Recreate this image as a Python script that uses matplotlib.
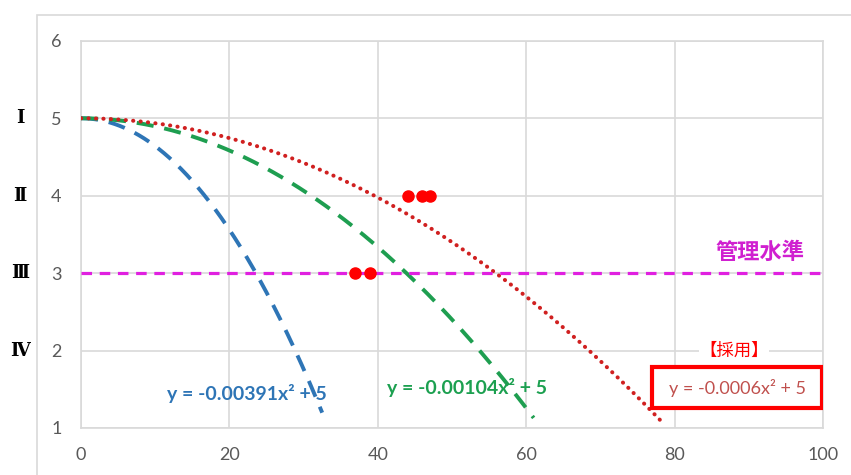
import matplotlib

matplotlib.use("Agg")
import matplotlib.pyplot as plt
import numpy as np
from matplotlib.patches import Rectangle

plt.rcParams["font.family"] = ["Lato", "Noto Sans CJK JP", "DejaVu Sans"]

# 近似曲線 y = -a*x^2 + 5 (a はグラフ上の線から読み取り)
curve_coef = [-0.0036, -0.00104, -0.00064]
curve_xend = [32.5, 61, 78.5]
curve_color = ["#2e75b6", "#1e9e50", "#d02020"]
curve_label = ["y = -0.00391x² + 5", "y = -0.00104x² + 5", "y = -0.0006x² + 5"]

# 実測点
obs_x = [44.1, 45.9, 47.0, 36.9, 39.0]
obs_y = [4, 4, 4, 3, 3]

kanri_level = 3
roman_pos = [5, 4, 3, 2]
roman_text = ["Ⅰ", "Ⅱ", "Ⅲ", "Ⅳ"]

fig = plt.figure(figsize=(8.51, 4.75), dpi=100)
fig.patches.append(Rectangle((0.0435, -0.01), 1.0, 0.978, transform=fig.transFigure,
                             fill=False, ec="#d9d9d9", lw=1.2))
ax = fig.add_axes([0.0952, 0.099, 0.872, 0.815])

grid_c = "#d9d9d9"
ax.set_xlim(0, 100)
ax.set_ylim(1, 6)
ax.set_xticks([0, 20, 40, 60, 80, 100])
ax.set_yticks([1, 2, 3, 4, 5, 6])
ax.grid(True, color=grid_c, lw=1.2, zorder=0)
for s in ax.spines.values():
    s.set_color(grid_c)
    s.set_linewidth(1.2)
ax.tick_params(length=0, labelsize=13, labelcolor="#595959", pad=14)
ax.tick_params(axis="y", pad=14)

# 曲線
dash_pat = [(4.4, 2.8), (4.4, 2.8), (0.05, 1.8)]
lws = [2.8, 2.8, 2.9]
for a, xe, c, d, w in zip(curve_coef, curve_xend, curve_color, dash_pat, lws):
    xs = np.linspace(0, xe, 300)
    ln, = ax.plot(xs, a * xs ** 2 + 5, color=c, lw=w, zorder=3)
    ln.set_dashes(d)
    if d[0] < 1:
        ln.set_dash_capstyle("round")

# 管理水準
ml, = ax.plot([0, 100], [kanri_level, kanri_level], color="#e020e0", lw=2.3, zorder=3)
ml.set_dashes((3.3, 2.4))
ax.text(91.5, kanri_level + 0.12, "管理水準", color="#d020d0", fontsize=16,
        fontweight="bold", ha="center", va="bottom",
        family=["Noto Sans CJK JP", "DejaVu Sans"], zorder=5)

ax.plot(obs_x, obs_y, "o", color="#ff0000", ms=8, zorder=6)

# 式ラベル
ax.text(22.3, 1.45, curve_label[0], color=curve_color[0], fontsize=14,
        fontweight="bold", ha="center", va="center", zorder=5)
ax.text(52.0, 1.52, curve_label[1], color="#1ca050", fontsize=14,
        fontweight="bold", ha="center", va="center", zorder=2)
ax.add_patch(Rectangle((76.9, 1.26), 23.0, 0.53, fc="white", ec="#ff0000", lw=3, zorder=7))
ax.text(88.4, 1.52, curve_label[2], color="#c0504d", fontsize=13,
        ha="center", va="center", zorder=8)
ax.text(88.0, 2.0, "【採用】", color="#ff0000", fontsize=12.5, ha="center", va="center",
        family=["Noto Sans CJK JP", "DejaVu Sans"], zorder=8,
        bbox=dict(fc="white", ec="none", pad=0.5))

# ローマ数字
for yv, t in zip(roman_pos, roman_text):
    ax.text(-0.082, yv, t, transform=ax.get_yaxis_transform(), ha="center", va="center",
            fontsize=13, fontweight="bold", family=["DejaVu Serif", "Noto Sans CJK JP"])

fig.savefig("out.png", dpi=100)
